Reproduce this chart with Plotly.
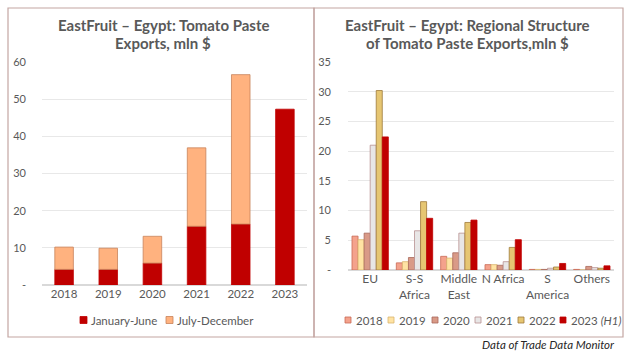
import plotly.graph_objects as go

# ---- Left chart data ----
years = ["2018", "2019", "2020", "2021", "2022", "2023"]
jan_jun = [4.2, 4.2, 5.9, 15.8, 16.4, 47.3]
jul_dec = [6.0, 5.7, 7.2, 21.1, 40.2, None]

# ---- Right chart data ----
regions = ["EU", "S-S<br>Africa", "Middle<br>East", "N Africa", "S<br>America", "Others"]
reg_2018 = [5.7, 1.2, 2.3, 0.9, 0.1, 0.1]
reg_2019 = [5.1, 1.4, 2.0, 0.9, 0.1, 0.0]
reg_2020 = [6.2, 2.1, 2.9, 0.8, 0.1, 0.6]
reg_2021 = [21.0, 6.6, 6.2, 1.4, 0.3, 0.4]
reg_2022 = [30.2, 11.5, 8.0, 3.8, 0.5, 0.3]
reg_2023 = [22.4, 8.7, 8.4, 5.1, 1.1, 0.7]

left_ticks = [0, 10, 20, 30, 40, 50, 60]
left_ticktext = ["-", "10", "20", "30", "40", "50", "60"]
right_ticks = [0, 5, 10, 15, 20, 25, 30, 35]
right_ticktext = ["-", "5", "10", "15", "20", "25", "30", "35"]

W, H = 628, 355
FONT = "Lato"
TXT = "#595959"

fig = go.Figure()

left_series = [
    ("January-June", jan_jun, None, "#C00000", "#C00000"),
    ("July-December", jul_dec, jan_jun, "#FFB27F", "#C8835A"),
]
for name, vals, base, col, lc in left_series:
    fig.add_trace(go.Bar(x=years, y=vals, base=base, name=name,
                         marker=dict(color=col, line=dict(color=lc, width=0.8)),
                         width=0.42, offset=-0.21, xaxis="x", yaxis="y", showlegend=False))

right_series = [
    ("2018", reg_2018, "#F4A28C", "#C96A55"),
    ("2019", reg_2019, "#FFE3A3", "#D9B56E"),
    ("2020", reg_2020, "#D99A87", "#A8685A"),
    ("2021", reg_2021, "#E8E6E6", "#B89090"),
    ("2022", reg_2022, "#E6C672", "#9E7A3A"),
    ("2023 <i>(H1)</i>", reg_2023, "#C00000", "#C00000"),
]
for name, vals, col, lc in right_series:
    fig.add_trace(go.Bar(x=regions, y=vals, name=name,
                         marker=dict(color=col, line=dict(color=lc, width=0.8)),
                         xaxis="x2", yaxis="y2", showlegend=False))


def px(v):
    return v / W


def py(v):
    return 1 - v / H


fig.update_layout(
    width=W, height=H, autosize=False,
    margin=dict(l=0, r=0, t=0, b=0, pad=0, autoexpand=False),
    paper_bgcolor="white", plot_bgcolor="white",
    barmode="group", bargap=0.18, bargroupgap=0,
    font=dict(family=FONT, color=TXT),
    showlegend=False,
    xaxis=dict(domain=[px(42), px(307)], anchor="y", showline=False, ticks="", tickangle=0,
               automargin=False, tickfont=dict(family=FONT, size=11.5, color=TXT)),
    yaxis=dict(domain=[py(285), py(62)], range=[0, 60], tickvals=left_ticks, ticktext=left_ticktext,
               showgrid=True, gridcolor="#E8E8E8", zeroline=True, zerolinecolor="#D9D9D9",
               anchor="x", ticks="", ticklabelstandoff=15, showline=False, automargin=False,
               tickfont=dict(family=FONT, size=11, color=TXT)),
    xaxis2=dict(domain=[px(348), px(614)], anchor="y2", showline=False, ticks="", tickangle=0,
                automargin=False, tickfont=dict(family=FONT, size=12, color=TXT)),
    yaxis2=dict(domain=[py(270), py(62)], range=[0, 35], tickvals=right_ticks, ticktext=right_ticktext,
                showgrid=True, gridcolor="#E8E8E8", zeroline=True, zerolinecolor="#D9D9D9",
                anchor="x2", ticks="", ticklabelstandoff=16, showline=False, automargin=False,
                tickfont=dict(family=FONT, size=11, color=TXT)),
)

# Panel frames
for x0, x1 in [(8, 314), (314, 623)]:
    fig.add_shape(type="rect", xref="paper", yref="paper", x0=px(x0), x1=px(x1), y0=py(337), y1=py(8),
                  line=dict(color="#C4A6A2", width=1.2), fillcolor="rgba(0,0,0,0)", layer="below")

# Titles (one annotation per line)
titles = [
    ("EastFruit – Egypt: Tomato Paste", 163, 25),
    ("Exports, mln $", 163, 43),
    ("EastFruit – Egypt: Regional Structure", 468, 25),
    ("of Tomato Paste Exports,mln $", 468, 43),
]
for t, x, y in titles:
    fig.add_annotation(text="<b>" + t + "</b>", xref="paper", yref="paper", x=px(x), y=py(y),
                       xanchor="center", yanchor="middle", showarrow=False,
                       font=dict(family=FONT, size=15, color=TXT))

# Custom legends: (label, fill, border, square_left_px, text_left_px)
legend_y = 320
left_legend = [
    ("January-June", "#C00000", "#C00000", 80, 89),
    ("July-December", "#FFB27F", "#C8835A", 166, 175),
]
right_legend = [
    ("2018", "#F4A28C", "#C96A55", 345, 354),
    ("2019", "#FFE3A3", "#D9B56E", 388, 397),
    ("2020", "#D99A87", "#A8685A", 432, 441),
    ("2021", "#E8E6E6", "#B89090", 475, 484),
    ("2022", "#E6C672", "#9E7A3A", 518, 527),
    ("2023 <i>(H1)</i>", "#C00000", "#C00000", 560, 569),
]
for items, sq in [(left_legend, 7), (right_legend, 6)]:
    for label, col, lc, sx, tx in items:
        fig.add_shape(type="rect", xref="paper", yref="paper",
                      x0=px(sx), x1=px(sx + sq), y0=py(legend_y + sq / 2), y1=py(legend_y - sq / 2),
                      fillcolor=col, line=dict(color=lc, width=0.8))
        fig.add_annotation(text=label, xref="paper", yref="paper", x=px(tx), y=py(legend_y),
                           xanchor="left", yanchor="middle", showarrow=False,
                           font=dict(family=FONT, size=11.5, color=TXT))

# Source caption
fig.add_annotation(text="<i>Data of Trade Data Monitor</i>", xref="paper", yref="paper",
                   x=px(617), y=py(344), xanchor="right", yanchor="middle", showarrow=False,
                   font=dict(family=FONT, size=11.5, color="#262626"))

post = (
    "document.documentElement.style.margin='0';document.documentElement.style.padding='0';"
    "document.documentElement.style.overflow='hidden';"
    "document.body.style.margin='0';document.body.style.padding='0';document.body.style.overflow='hidden';"
    "var d=document.getElementById('{plot_id}');d.style.position='fixed';d.style.left='0px';d.style.top='0px';"
)
fig.write_html("out.html", config={"displayModeBar": False, "responsive": False}, post_script=post)
